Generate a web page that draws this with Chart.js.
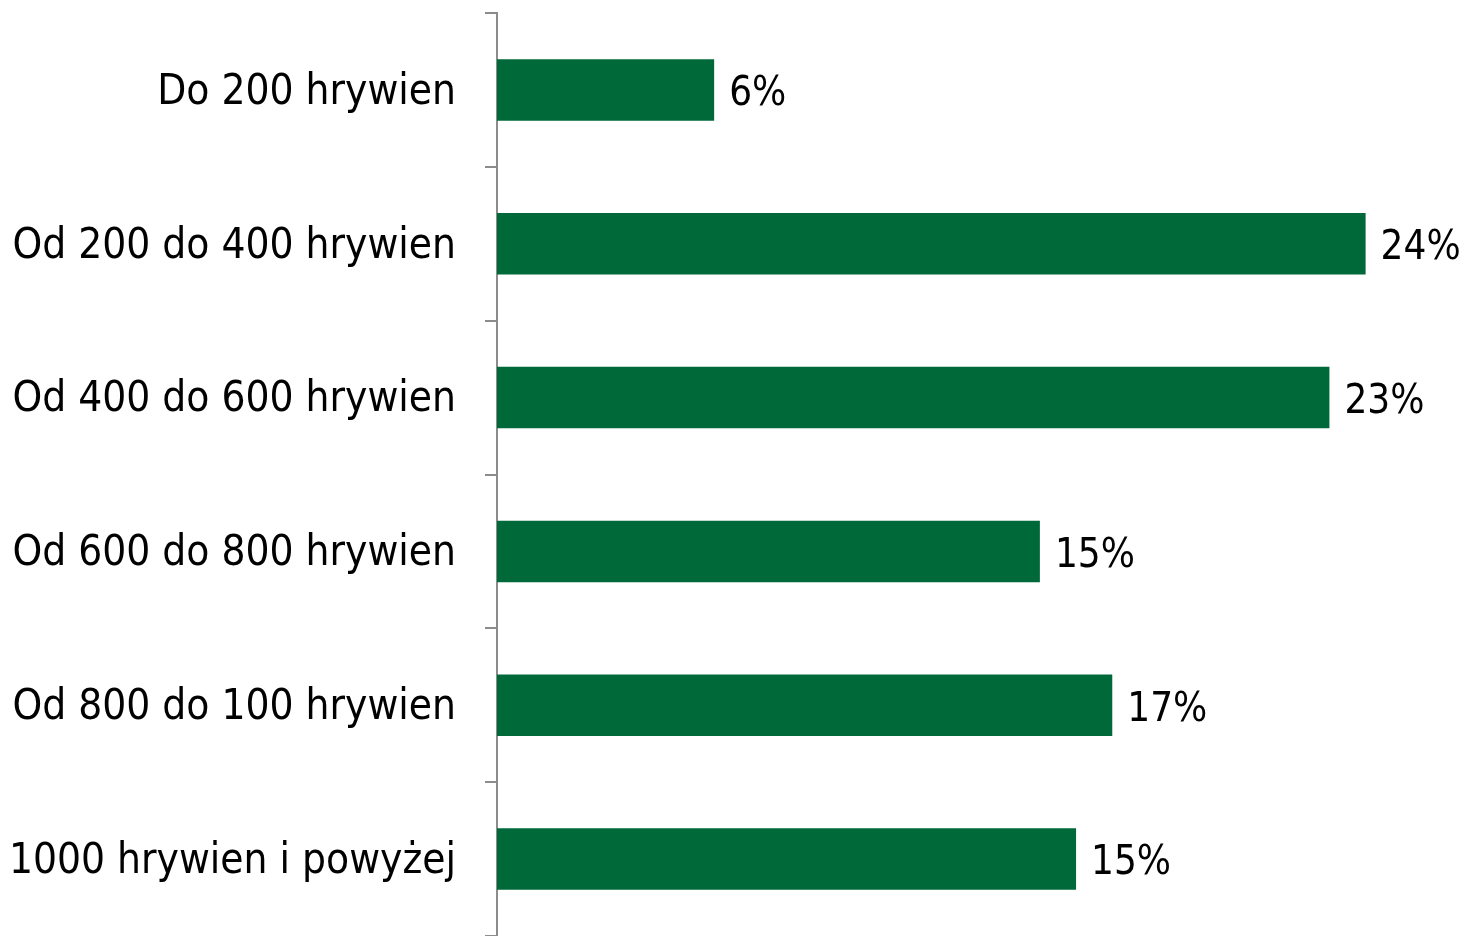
<!DOCTYPE html>
<html>
<head>
<meta charset="utf-8">
<script src="https://cdn.jsdelivr.net/npm/chart.js@4"></script>
<style>
    html, body { margin: 0; padding: 0; background: #fff; }
    #wrap { width: 1461px; height: 936px; }
</style>
</head>
<body>
<div id="wrap"><canvas id="my-chart" width="1461" height="936"></canvas></div>
<script>
const categories = [
    'Do 200 hrywien',
    'Od 200 do 400 hrywien',
    'Od 400 do 600 hrywien',
    'Od 600 do 800 hrywien',
    'Od 800 do 100 hrywien',
    '1000 hrywien i powyżej'
];
// bar lengths as measured on the picture
const shares = [6, 24, 23, 15, 17, 16];
// the printed labels (the last one reads 15% in the source)
const shareLabels = ['6%', '24%', '23%', '15%', '17%', '15%'];

const fontFamily = "'DejaVu Sans Condensed', 'DejaVu Sans', sans-serif";
const labelFont = { family: fontFamily, size: 42 };
const valueFont = { family: fontFamily, size: 40 };

// draws the "NN%" text to the right of each bar
const valueLabels = {
    id: 'valueLabels',
    afterDatasetsDraw(chart) {
        const ctx = chart.ctx;
        const meta = chart.getDatasetMeta(0);
        ctx.save();
        ctx.fillStyle = '#000';
        ctx.font = valueFont.size + 'px ' + valueFont.family;
        ctx.textAlign = 'left';
        ctx.textBaseline = 'middle';
        meta.data.forEach((bar, i) => {
            ctx.fillText(shareLabels[i], bar.x + 15, bar.y + 5);
        });
        ctx.restore();
    }
};

const ctx = document.getElementById('my-chart').getContext('2d');
new Chart(ctx, {
    type: 'bar',
    data: {
        labels: categories,
        datasets: [{
            data: shares,
            backgroundColor: '#00693A',
            categoryPercentage: 1,
            barPercentage: 0.4
        }]
    },
    options: {
        indexAxis: 'y',
        responsive: false,
        animation: false,
        layout: { padding: { top: 13, right: 23, bottom: 0, left: 0 } },
        scales: {
            x: {
                display: false,
                min: 0,
                max: 26
            },
            y: {
                afterFit(scale) {
                    scale.width = 497;
                    scale.paddingTop = 0;
                    scale.paddingBottom = 0;
                },
                border: { display: true, color: '#8c8c8c', width: 2 },
                grid: {
                    drawOnChartArea: false,
                    drawTicks: true,
                    tickLength: 12,
                    color: '#8c8c8c',
                    lineWidth: 2
                },
                ticks: {
                    color: '#000',
                    font: labelFont,
                    padding: 29,
                    labelOffset: 3
                }
            }
        },
        plugins: {
            legend: { display: false },
            tooltip: { enabled: false }
        }
    },
    plugins: [valueLabels]
});
</script>
</body>
</html>
